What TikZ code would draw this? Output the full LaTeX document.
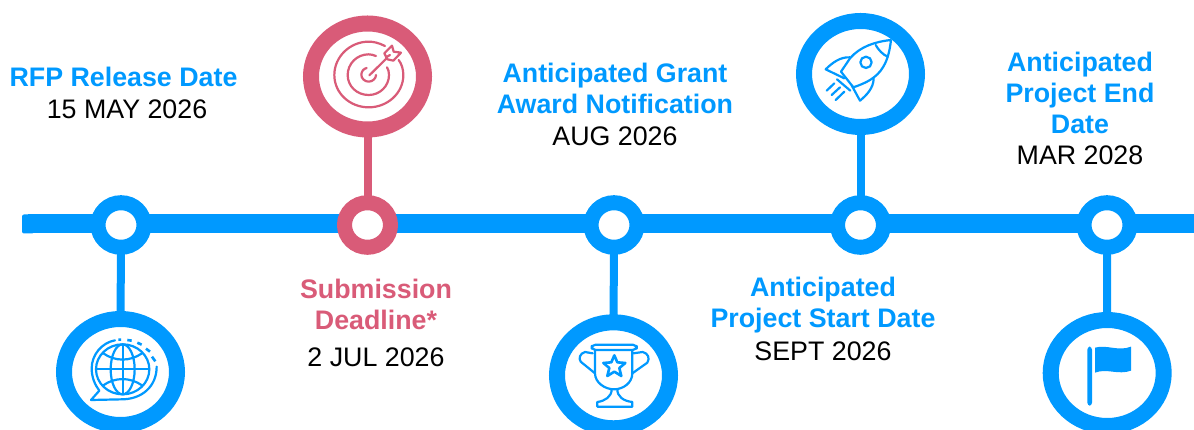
\documentclass[tikz,border=0pt]{standalone}
\usepackage{fontspec}
\setmainfont{Liberation Sans}
\usetikzlibrary{shapes.geometric,calc}
\definecolor{tlblue}{HTML}{0099FF}
\definecolor{tlpink}{HTML}{D95B78}
\pgfdeclarelayer{bg}
\pgfsetlayers{bg,main}
\tikzset{
  x=1pt,y=-1pt,
  bigring/.style={ellipse,draw=#1,fill=white,line width=16pt,minimum width=113pt,minimum height=106pt,inner sep=0pt,outer sep=0pt},
  smallring/.style={ellipse,draw=#1,fill=white,line width=15pt,minimum width=46pt,minimum height=44.6pt,inner sep=0pt,outer sep=0pt},
  axisline/.style={draw=tlblue,line width=19pt},
  stem/.style={draw=#1,line width=8pt},
  lbl/.style={align=center,inner sep=0pt,font=\fontsize{26.8}{31}\selectfont},
  head/.style={font=\fontsize{26.8}{31}\selectfont\bfseries},
  iconb/.style={draw=tlblue,line width=2.2pt,line join=round,line cap=round},
  iconp/.style={draw=tlpink,line width=2.2pt,line join=round,line cap=round},
}
\begin{document}
\begin{tikzpicture}
\useasboundingbox (0,0) rectangle (1194,430);
% small nodes
\node[smallring=tlblue] (s1) at (121,225) {};
\node[smallring=tlpink] (s2) at (367.5,225) {};
\node[smallring=tlblue] (s3) at (614,225) {};
\node[smallring=tlblue] (s4) at (860.5,225) {};
\node[smallring=tlblue] (s5) at (1107,225) {};
% big nodes
\node[bigring=tlblue] (b1) at (120.5,372) {};
\node[bigring=tlpink] (b2) at (367.5,76.5) {};
\node[bigring=tlblue] (b3) at (613.5,375.3) {};
\node[bigring=tlblue] (b4) at (860.5,74) {};
\node[bigring=tlblue] (b5) at (1107.2,373) {};
% axis start
\node[fill=tlblue,rounded corners=2pt,minimum width=12pt,minimum height=19pt,inner sep=0pt,outer sep=0pt] (axstart) at (28,224) {};
\coordinate (axend) at (1194,224);
\begin{pgfonlayer}{bg}
\draw[axisline] (axstart.center) -- (s1.west |- axstart.center);
\draw[axisline] (s1.east |- axstart.center) -- (s2.west |- axstart.center);
\draw[axisline] (s2.east |- axstart.center) -- (s3.west |- axstart.center);
\draw[axisline] (s3.east |- axstart.center) -- (s4.west |- axstart.center);
\draw[axisline] (s4.east |- axstart.center) -- (s5.west |- axstart.center);
\draw[axisline] (s5.east |- axstart.center) -- (axend);
\draw[stem=tlblue] (s1.south) -- (b1.north);
\draw[stem=tlpink] (s2.north) -- (b2.south);
\draw[stem=tlblue] (s3.south) -- (b3.north);
\draw[stem=tlblue] (s4.north) -- (b4.south);
\draw[stem=tlblue] (s5.south) -- (b5.north);
\end{pgfonlayer}
% globe icon
\begin{scope}[shift={(40,300)},scale=1/3]
 \draw[iconb] (248,208) ellipse [x radius=80,y radius=75];
 \draw[iconb] (248,208) ellipse [x radius=36,y radius=75];
 \draw[iconb] (248,133) -- (248,283);
 \draw[iconb] (168,208) -- (328,208);
 \draw[iconb] (190,160) .. controls (225,185) and (270,185) .. (306,160);
 \draw[iconb] (190,256) .. controls (225,231) and (270,231) .. (306,256);
 \draw[iconb] (225,121) .. controls (185,128) and (155,165) .. (155,205) .. controls (155,232) and (165,255) .. (178,272) -- (153,300) -- (245,298) .. controls (305,298) and (350,260) .. (350,200);
 \draw[iconb,line width=2.6pt,line cap=butt] (235,119) -- (243,119) (262,120) -- (275,122) (292,128) -- (305,134) (318,146) -- (330,155) (336,170) -- (346,184);
\end{scope}
% target icon
\begin{scope}[shift={(290,0)},scale=1/3]
 \draw[iconp] (285,138) .. controls (265,128) and (250,125) .. (236,125) .. controls (180,125) and (133,170) .. (133,225) .. controls (133,280) and (180,322) .. (236,322) .. controls (292,322) and (340,280) .. (340,225) .. controls (340,208) and (335,192) .. (326,180);
 \draw[iconp] (258,168) .. controls (250,165) and (243,163) .. (236,163) .. controls (200,163) and (173,192) .. (173,225) .. controls (173,258) and (200,285) .. (236,285) .. controls (270,285) and (297,258) .. (297,225) .. controls (297,215) and (295,208) .. (291,202);
 \draw[iconp] (230,204) .. controls (220,206) and (214,215) .. (214,225) .. controls (214,235) and (224,245) .. (236,245) .. controls (248,245) and (258,235) .. (258,225);
 \draw[iconp] (238,226) -- (300,165);
 \draw[iconp,fill=white] (283,160) -- (306,137) -- (311,155) -- (333,158) -- (310,182) -- (292,178) -- cycle;
 \draw[iconp] (288,172) -- (300,165);
\end{scope}
% trophy icon
\begin{scope}[shift={(540,300)},scale=1/3]
 \draw[iconb,rounded corners=4pt] (155,134) rectangle (290,150);
 \draw[iconb] (165,150) -- (165,220) .. controls (165,248) and (195,268) .. (222,268) .. controls (250,268) and (277,248) .. (277,220) -- (277,150);
 \draw[iconb] (215,268) .. controls (215,290) and (195,303) .. (172,306) -- (172,320) -- (277,320) -- (277,306) .. controls (250,303) and (232,290) .. (232,268);
 \draw[iconb] (158,160) -- (135,156) .. controls (120,160) and (115,175) .. (122,185) -- (165,220);
 \draw[iconb] (280,160) -- (308,156) .. controls (325,160) and (330,175) .. (322,188) -- (277,220);
 \draw[iconb,line width=2.6pt] (223,166) -- (232,187) -- (256,189) -- (238,204) -- (244,228) -- (223,215) -- (202,228) -- (208,204) -- (190,189) -- (214,187) -- cycle;
\end{scope}
% rocket icon
\begin{scope}[shift={(785,0)},scale=1/3]
 \draw[iconb] (318,120) .. controls (270,125) and (225,140) .. (195,175) -- (168,215) -- (205,262) .. controls (240,250) and (275,235) .. (295,200) .. controls (310,175) and (315,145) .. (318,120);
 \draw[iconb] (272,135) .. controls (280,150) and (295,165) .. (308,170);
 \draw[iconb] (243,187) ellipse [x radius=17,y radius=17];
 \draw[iconb] (195,172) .. controls (165,170) and (140,190) .. (122,208) -- (178,235);
 \draw[iconb] (266,236) .. controls (265,265) and (245,285) .. (225,302) -- (200,256);
 \draw[iconb] (156,238) -- (196,272);
 \draw[iconb] (125,272) -- (148,250) (140,285) -- (165,262) (152,300) -- (178,275);
\end{scope}
% flag icon
\begin{scope}[shift={(1030,300)},scale=1/3]
 \fill[tlblue,rounded corners=3pt] (172,140) rectangle (186,317);
 \fill[tlblue] (195,143) .. controls (230,133) and (265,155) .. (303,140) -- (303,212) .. controls (265,226) and (230,204) .. (195,218) -- cycle;
\end{scope}
% labels
\node[lbl,head,text=tlblue] (t1a) at (123.5,77) {RFP Release Date};
\node[lbl] (t1b) at (127,109) {15 MAY 2026};
\node[lbl,head,text=tlpink] (t2a) at (376,304) {Submission\\Deadline*};
\node[lbl] (t2b) at (376,357) {2 JUL 2026};
\node[lbl,head,text=tlblue] (t3a) at (615,88) {Anticipated Grant\\Award Notification};
\node[lbl] (t3b) at (615,136) {AUG 2026};
\node[lbl,head,text=tlblue] (t4a) at (823,305.5) {Anticipated\\Project Start Date};
\node[lbl] (t4b) at (823,351) {SEPT 2026};
\node[lbl,head,text=tlblue] (t5a) at (1080,92.5) {Anticipated\\Project End\\Date};
\node[lbl] (t5b) at (1080,155) {MAR 2028};
\end{tikzpicture}
\end{document}
